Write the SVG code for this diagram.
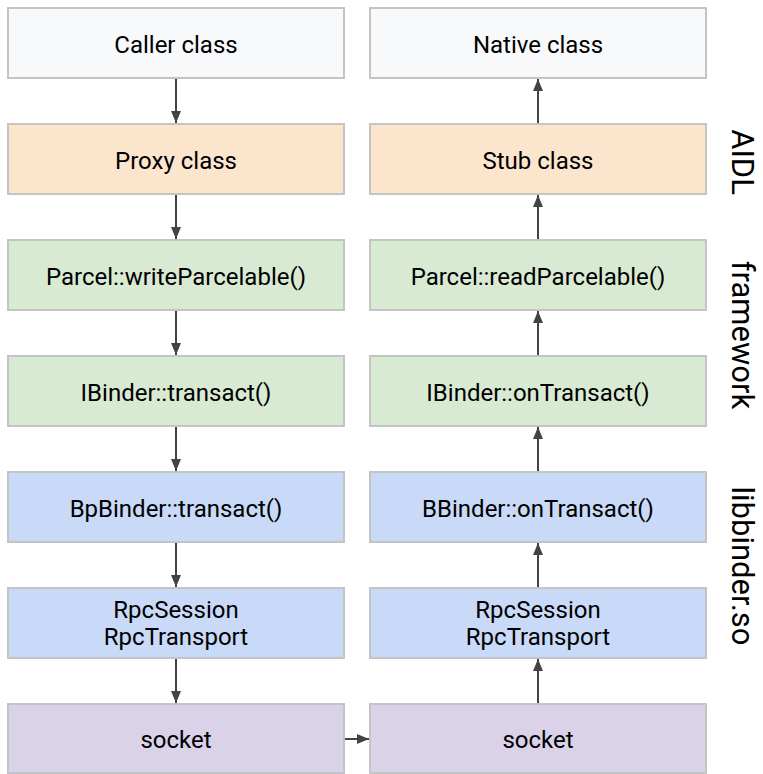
<svg xmlns="http://www.w3.org/2000/svg" width="763" height="774" viewBox="0 0 763 774">
<defs>
<marker id="ah" viewBox="0 0 12 10" refX="12" refY="5" markerWidth="12" markerHeight="10" markerUnits="userSpaceOnUse" orient="auto">
<path d="M0,0 L12,5 L0,10 z" fill="#434343"/>
</marker>
<style>
.box{stroke:#c4c4c4;stroke-width:2}
.gray{fill:#f8f9fa}.orange{fill:#fce5cd}.green{fill:#d9ead3}.blue{fill:#c9daf8}.purple{fill:#d9d2e9}
.t{font-family:Roboto,"Liberation Sans",sans-serif;font-size:24px;fill:#000;text-anchor:middle}
.side{font-family:Roboto,"Liberation Sans",sans-serif;font-size:31px;fill:#000;text-anchor:middle}
.c{stroke:#434343;stroke-width:2;fill:none;marker-end:url(#ah)}
</style>
</defs>
<rect width="763" height="774" fill="#ffffff"/>
<g id="caller"><rect class="box gray" x="8" y="8" width="336" height="70"/><text class="t" x="176" y="53">Caller class</text></g>
<g id="native"><rect class="box gray" x="370" y="8" width="336" height="70"/><text class="t" x="538" y="53">Native class</text></g>
<g id="proxy"><rect class="box orange" x="8" y="124" width="336" height="70"/><text class="t" x="176" y="169">Proxy class</text></g>
<g id="stub"><rect class="box orange" x="370" y="124" width="336" height="70"/><text class="t" x="538" y="169">Stub class</text></g>
<g id="writeParcelable"><rect class="box green" x="8" y="240" width="336" height="70"/><text class="t" x="176" y="285">Parcel::writeParcelable()</text></g>
<g id="readParcelable"><rect class="box green" x="370" y="240" width="336" height="70"/><text class="t" x="538" y="285">Parcel::readParcelable()</text></g>
<g id="transact"><rect class="box green" x="8" y="356" width="336" height="70"/><text class="t" x="176" y="401">IBinder::transact()</text></g>
<g id="onTransact"><rect class="box green" x="370" y="356" width="336" height="70"/><text class="t" x="538" y="401">IBinder::onTransact()</text></g>
<g id="bpTransact"><rect class="box blue" x="8" y="472" width="336" height="70"/><text class="t" x="176" y="517">BpBinder::transact()</text></g>
<g id="bOnTransact"><rect class="box blue" x="370" y="472" width="336" height="70"/><text class="t" x="538" y="517">BBinder::onTransact()</text></g>
<g id="rpcLeft"><rect class="box blue" x="8" y="588" width="336" height="70"/><text class="t" x="176" y="618">RpcSession</text><text class="t" x="176" y="645">RpcTransport</text></g>
<g id="rpcRight"><rect class="box blue" x="370" y="588" width="336" height="70"/><text class="t" x="538" y="618">RpcSession</text><text class="t" x="538" y="645">RpcTransport</text></g>
<g id="socketLeft"><rect class="box purple" x="8" y="704" width="336" height="69"/><text class="t" x="176" y="748">socket</text></g>
<g id="socketRight"><rect class="box purple" x="370" y="704" width="336" height="69"/><text class="t" x="538" y="748">socket</text></g>
<g id="connectors">
<line class="c" x1="176" y1="79" x2="176" y2="123"/>
<line class="c" x1="176" y1="195" x2="176" y2="239"/>
<line class="c" x1="176" y1="311" x2="176" y2="355"/>
<line class="c" x1="176" y1="427" x2="176" y2="471"/>
<line class="c" x1="176" y1="543" x2="176" y2="587"/>
<line class="c" x1="176" y1="659" x2="176" y2="703"/>
<line class="c" x1="345" y1="739" x2="369" y2="739"/>
<line class="c" x1="538" y1="703" x2="538" y2="659"/>
<line class="c" x1="538" y1="587" x2="538" y2="543"/>
<line class="c" x1="538" y1="471" x2="538" y2="427"/>
<line class="c" x1="538" y1="355" x2="538" y2="311"/>
<line class="c" x1="538" y1="239" x2="538" y2="195"/>
<line class="c" x1="538" y1="123" x2="538" y2="79"/>
</g>
<g id="labels">
<text class="side" transform="translate(732,162) rotate(90)">AIDL</text>
<text class="side" transform="translate(732,335) rotate(90)">framework</text>
<text class="side" transform="translate(732,566) rotate(90)">libbinder.so</text>
</g>
</svg>
